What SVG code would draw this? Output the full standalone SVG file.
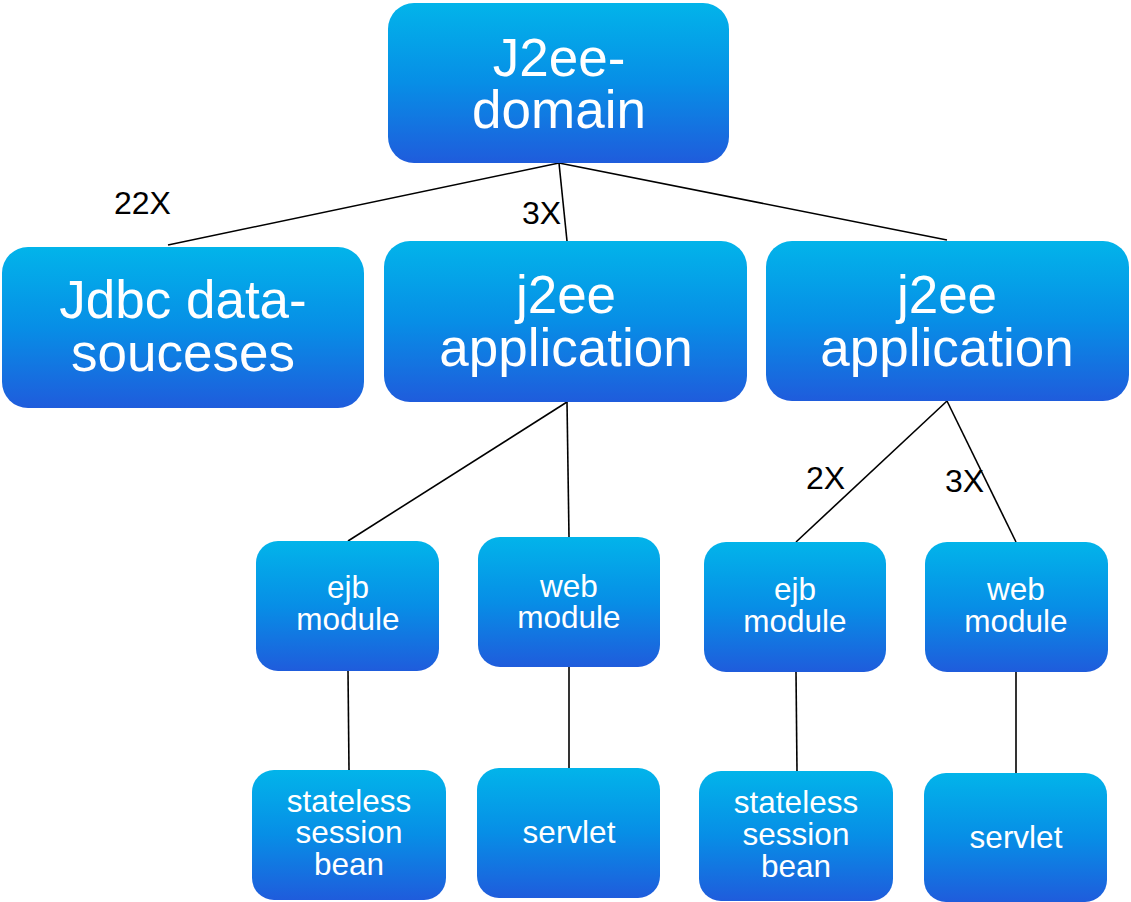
<svg xmlns="http://www.w3.org/2000/svg" width="1131" height="902" viewBox="0 0 1131 902">
<style>
.box{fill:url(#g);}
.big{font-family:"Liberation Sans",Arial,sans-serif;font-size:53px;fill:#fff;text-anchor:middle;}
.small{font-family:"Liberation Sans",Arial,sans-serif;font-size:31.5px;fill:#fff;text-anchor:middle;}
.lbl{font-family:"Liberation Sans",Arial,sans-serif;font-size:32px;fill:#000;}
.conn line{stroke:#000;stroke-width:1.6;}
</style>
<defs>
<linearGradient id="g" x1="0" y1="0" x2="0" y2="1">
<stop offset="0" stop-color="#02b4ea"/>
<stop offset="0.5" stop-color="#078ee6"/>
<stop offset="1" stop-color="#1f5cdc"/>
</linearGradient>
</defs>
<rect width="1131" height="902" fill="#fff"/>
<g id="connectors" class="conn">
<line x1="559" y1="163" x2="168" y2="245"/>
<line x1="559" y1="163" x2="567" y2="241"/>
<line x1="559" y1="163" x2="947" y2="240"/>
<line x1="567" y1="402" x2="348" y2="541"/>
<line x1="567" y1="402" x2="569" y2="537"/>
<line x1="348" y1="671" x2="349" y2="770"/>
<line x1="569" y1="667" x2="569" y2="768"/>
<line x1="947" y1="401" x2="796" y2="542"/>
<line x1="947" y1="401" x2="1016" y2="542"/>
<line x1="796" y1="672" x2="797" y2="771"/>
<line x1="1016" y1="672" x2="1016" y2="773"/>
</g>
<g id="labels">
<text class="lbl" x="114" y="214">22X</text>
<text class="lbl" x="522" y="224">3X</text>
<text class="lbl" x="806" y="489">2X</text>
<text class="lbl" x="945" y="492">3X</text>
</g>
<g id="domain">
<rect class="box" x="388" y="3" width="341" height="160" rx="26"/>
<text class="big" x="559" y="76">J2ee-</text>
<text class="big" x="559" y="128">domain</text>
</g>
<g id="jdbc">
<rect class="box" x="2" y="247" width="362" height="161" rx="26"/>
<text class="big" x="183" y="318">Jdbc data-</text>
<text class="big" x="183" y="371">souceses</text>
</g>
<g id="app1">
<rect class="box" x="384" y="241" width="363" height="161" rx="26"/>
<text class="big" x="566" y="313">j2ee</text>
<text class="big" x="566" y="366">application</text>
</g>
<g id="app2">
<rect class="box" x="766" y="241" width="363" height="160" rx="26"/>
<text class="big" x="947" y="313">j2ee</text>
<text class="big" x="947" y="366">application</text>
</g>
<g id="ejb1">
<rect class="box" x="256" y="541" width="183" height="130" rx="22"/>
<text class="small" x="348" y="598">ejb</text>
<text class="small" x="348" y="630">module</text>
</g>
<g id="web1">
<rect class="box" x="478" y="537" width="182" height="130" rx="22"/>
<text class="small" x="569" y="597">web</text>
<text class="small" x="569" y="628">module</text>
</g>
<g id="ejb2">
<rect class="box" x="704" y="542" width="182" height="130" rx="22"/>
<text class="small" x="795" y="600">ejb</text>
<text class="small" x="795" y="632">module</text>
</g>
<g id="web2">
<rect class="box" x="925" y="542" width="183" height="130" rx="22"/>
<text class="small" x="1016" y="600">web</text>
<text class="small" x="1016" y="632">module</text>
</g>
<g id="bean1">
<rect class="box" x="252" y="770" width="194" height="130" rx="22"/>
<text class="small" x="349" y="812">stateless</text>
<text class="small" x="349" y="843">session</text>
<text class="small" x="349" y="875">bean</text>
</g>
<g id="servlet1">
<rect class="box" x="477" y="768" width="183" height="130" rx="22"/>
<text class="small" x="569" y="843">servlet</text>
</g>
<g id="bean2">
<rect class="box" x="699" y="771" width="194" height="130" rx="22"/>
<text class="small" x="796" y="813">stateless</text>
<text class="small" x="796" y="845">session</text>
<text class="small" x="796" y="877">bean</text>
</g>
<g id="servlet2">
<rect class="box" x="924" y="773" width="183" height="129" rx="22"/>
<text class="small" x="1016" y="848">servlet</text>
</g>
</svg>
